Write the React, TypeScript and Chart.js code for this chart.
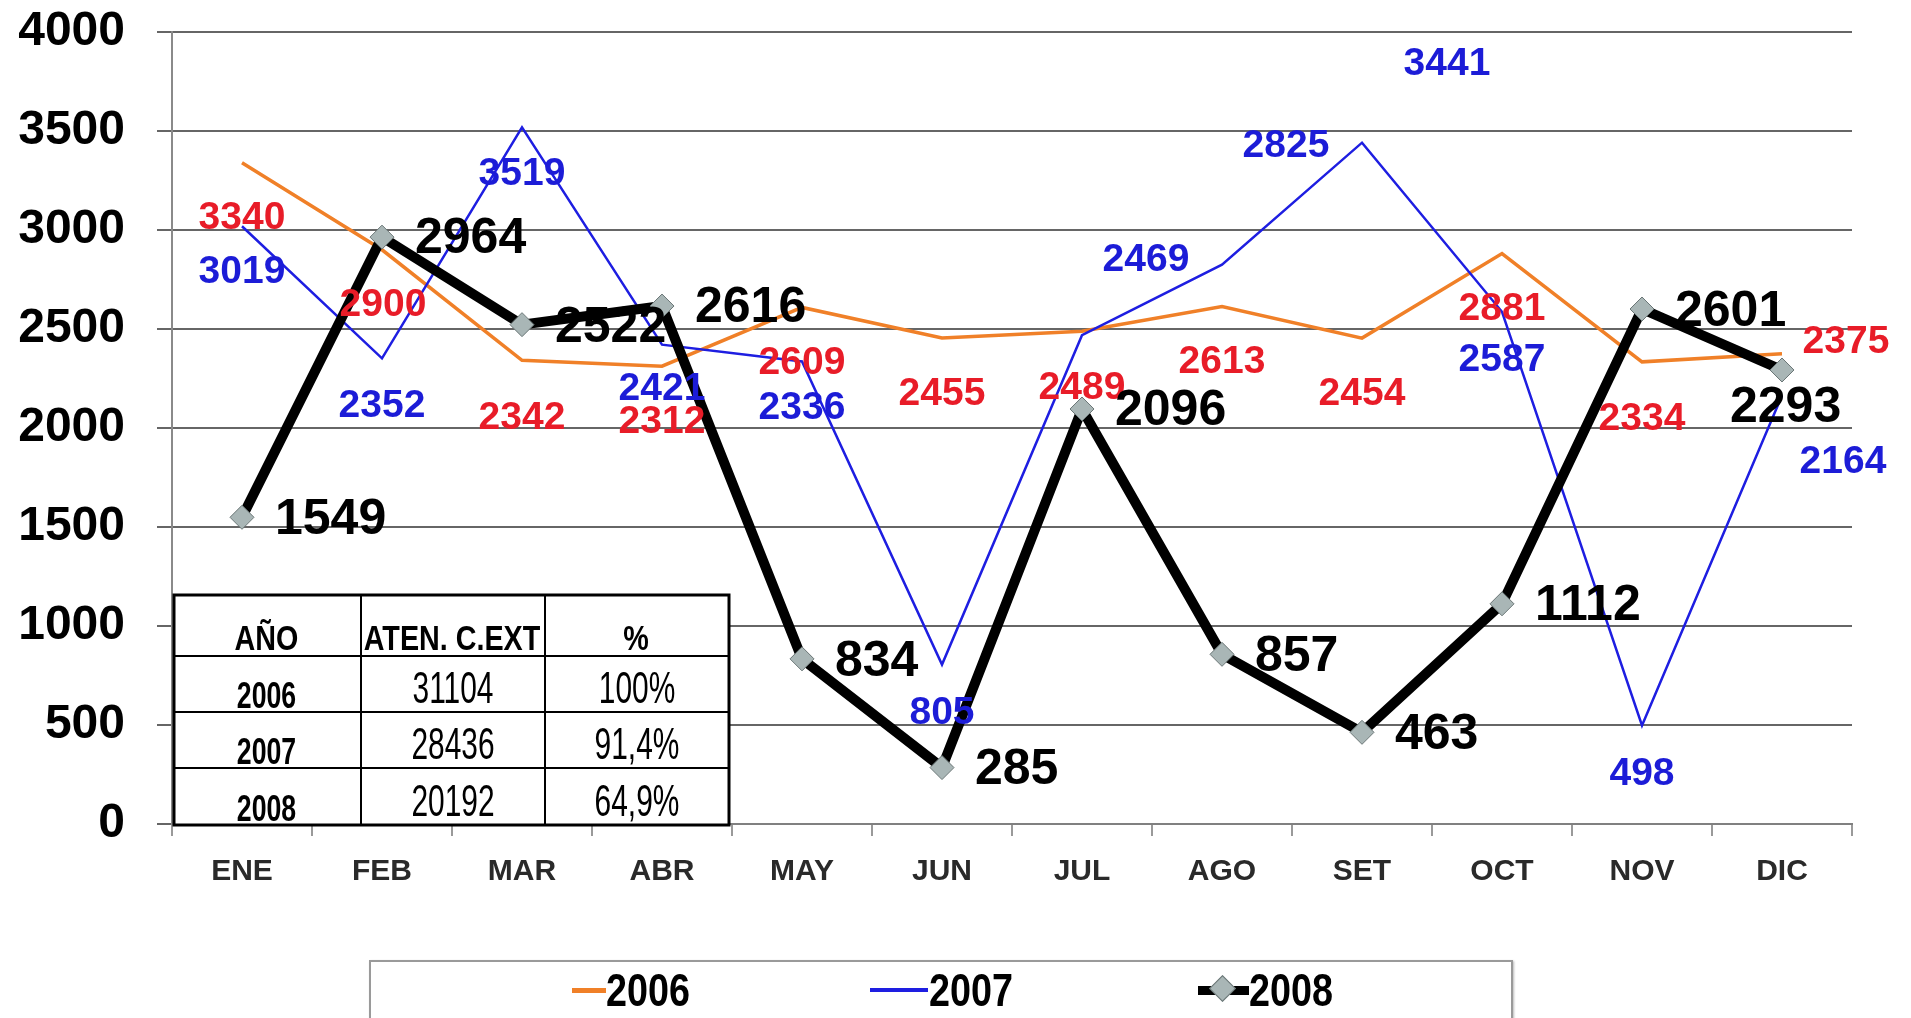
import React, { useEffect, useRef } from "react";
import { Chart, registerables } from "chart.js";

Chart.register(...registerables);

// ---- data ----
const months = ["ENE", "FEB", "MAR", "ABR", "MAY", "JUN", "JUL", "AGO", "SET", "OCT", "NOV", "DIC"];
const values2006 = [3340, 2900, 2342, 2312, 2609, 2455, 2489, 2613, 2454, 2881, 2334, 2375];
const values2007 = [3019, 2352, 3519, 2421, 2336, 805, 2469, 2825, 3441, 2587, 498, 2164];
const values2008 = [1549, 2964, 2522, 2616, 834, 285, 2096, 857, 463, 1112, 2601, 2293];
const seriesNames = ["2006", "2007", "2008"];
const yMin = 0;
const yMax = 4000;
const yStep = 500;

const tableHeader = ["AÑO", "ATEN. C.EXT", "%"];
const tableYears = ["2006", "2007", "2008"];
const tableTotals = ["31104", "28436", "20192"];
const tablePercents = ["100%", "91,4%", "64,9%"];

// ---- label placement (offsets from the point, px) ----
const off2006: [number, number][] = [
  [0, 56], [1, 55], [0, 58], [0, 56], [0, 56], [0, 56], [0, 57], [0, 56], [0, 56], [0, 56], [0, 57], [64, -12],
];
const off2007: [number, number][] = [
  [0, 46], [0, 48], [0, 47], [0, 45], [0, 47], [0, 49], [64, -75], [64, -118], [85, -78], [0, 48], [0, 49], [61, 67],
];
const off2008: [number, number][] = [
  [33, 3], [33, 2], [33, 4], [33, 2], [33, 3], [33, 3], [33, 2], [33, 3], [33, 3], [33, 2], [33, 3], [-52, 38],
];

const ORANGE = "rgb(240,128,40)";
const BLUE = "rgb(30,30,225)";
const RED = "rgb(232,28,40)";
const BLUE_TXT = "rgb(28,28,215)";
const FONT = "'Liberation Sans', Arial, sans-serif";

const W = 1911;
const H = 1018;
const AREA_LEFT = 172;
const AREA_RIGHT = 1852;
const AREA_TOP = 32;
const AREA_BOTTOM = 824;

function condensedText(
  ctx: CanvasRenderingContext2D,
  text: string,
  cx: number,
  baseline: number,
  font: string,
  sx: number
) {
  ctx.save();
  ctx.font = font;
  ctx.textAlign = "center";
  ctx.textBaseline = "alphabetic";
  ctx.translate(cx, baseline);
  ctx.scale(sx, 1);
  ctx.fillText(text, 0, 0);
  ctx.restore();
}

const labelPlugin = {
  id: "pointLabels",
  afterDatasetsDraw(chart: any) {
    const ctx: CanvasRenderingContext2D = chart.ctx;
    const specs = [
      { idx: 0, vals: values2006, off: off2006, color: RED, font: `bold 39px ${FONT}`, align: "center" },
      { idx: 1, vals: values2007, off: off2007, color: BLUE_TXT, font: `bold 39px ${FONT}`, align: "center" },
      { idx: 2, vals: values2008, off: off2008, color: "#000", font: `bold 50px ${FONT}`, align: "left" },
    ];
    ctx.save();
    for (const s of specs) {
      const meta = chart.getDatasetMeta(s.idx);
      ctx.font = s.font;
      ctx.fillStyle = s.color;
      ctx.textBaseline = "middle";
      meta.data.forEach((pt: any, i: number) => {
        const [dx, dy] = s.off[i];
        ctx.textAlign = s.align as CanvasTextAlign;
        ctx.fillText(String(s.vals[i]), pt.x + dx, pt.y + dy);
      });
    }
    ctx.restore();
  },
  afterDraw(chart: any) {
    const ctx: CanvasRenderingContext2D = chart.ctx;
    // summary table
    const x0 = 174, x1 = 361, x2 = 545, x3 = 729;
    const rows = [595, 656, 712, 768, 825];
    ctx.save();
    ctx.fillStyle = "#fff";
    ctx.fillRect(x0, rows[0], x3 - x0, rows[4] - rows[0]);
    ctx.strokeStyle = "#000";
    ctx.lineWidth = 3;
    ctx.strokeRect(x0, rows[0], x3 - x0, rows[4] - rows[0]);
    ctx.lineWidth = 2;
    ctx.beginPath();
    for (let r = 1; r < 4; r++) {
      ctx.moveTo(x0, rows[r]);
      ctx.lineTo(x3, rows[r]);
    }
    ctx.moveTo(x1, rows[0]);
    ctx.lineTo(x1, rows[4]);
    ctx.moveTo(x2, rows[0]);
    ctx.lineTo(x2, rows[4]);
    ctx.stroke();
    ctx.fillStyle = "#000";
    const cols = [(x0 + x1) / 2, (x1 + x2) / 2, (x2 + x3) / 2];
    tableHeader.forEach((t, c) => {
      condensedText(ctx, t, cols[c] - 1, rows[1] - 6, `bold 35px ${FONT}`, 0.82);
    });
    for (let r = 0; r < 3; r++) {
      const base = rows[r + 2] - 4;
      condensedText(ctx, tableYears[r], cols[0] - 1, base, `bold 36px ${FONT}`, 0.74);
      condensedText(ctx, tableTotals[r], cols[1], base - 5, `44px ${FONT}`, 0.68);
      condensedText(ctx, tablePercents[r], cols[2], base - 5, `44px ${FONT}`, 0.68);
    }
    ctx.restore();
  },
};

export default function App() {
  const ref = useRef<HTMLCanvasElement | null>(null);

  useEffect(() => {
    document.body.style.margin = "0";
    if (!ref.current) return;
    const chart = new Chart(ref.current, {
      type: "line",
      data: {
        labels: months,
        datasets: [
          {
            label: seriesNames[0],
            data: values2006,
            borderColor: ORANGE,
            backgroundColor: ORANGE,
            borderWidth: 3.5,
            pointRadius: 0,
            tension: 0,
            order: 2,
          },
          {
            label: seriesNames[1],
            data: values2007,
            borderColor: BLUE,
            backgroundColor: BLUE,
            borderWidth: 2.5,
            pointRadius: 0,
            tension: 0,
            order: 1,
          },
          {
            label: seriesNames[2],
            data: values2008,
            borderColor: "#000",
            backgroundColor: "#a9b6b6",
            borderWidth: 10,
            pointStyle: "rectRot",
            pointRadius: 12,
            pointBorderColor: "#6a7676",
            pointBorderWidth: 1,
            pointBackgroundColor: "#a9b6b6",
            tension: 0,
            order: 0,
          },
        ],
      },
      options: {
        responsive: false,
        animation: false,
        events: [],
        layout: {
          padding: { left: 0, top: AREA_TOP, right: W - AREA_RIGHT, bottom: 0 },
        },
        plugins: {
          legend: { display: false },
          tooltip: { enabled: false },
        },
        scales: {
          x: {
            type: "category",
            offset: true,
            grid: {
              offset: true,
              drawOnChartArea: false,
              drawTicks: true,
              tickLength: 12,
              color: "#9a9a9a",
              lineWidth: 2,
            },
            border: { display: true, color: "#808080", width: 2 },
            ticks: {
              color: "#2a2a2a",
              font: { family: FONT, size: 30, weight: "bold" },
              padding: 18,
              maxRotation: 0,
            },
            afterFit(scale: any) {
              scale.height = H - AREA_BOTTOM;
              scale.paddingLeft = 0;
              scale.paddingRight = 0;
            },
          },
          y: {
            min: yMin,
            max: yMax,
            ticks: {
              stepSize: yStep,
              color: "#000",
              font: { family: FONT, size: 48, weight: "bold" },
              padding: 32,
              callback: (v: any) => String(v),
            },
            grid: {
              color: "#666666",
              lineWidth: 2,
              tickLength: 15,
              drawTicks: true,
            },
            border: { display: true, color: "#8a8a8a", width: 2 },
            afterFit(scale: any) {
              scale.width = AREA_LEFT;
              scale.paddingTop = 0;
              scale.paddingBottom = 0;
            },
          },
        },
      },
      plugins: [labelPlugin],
    });
    return () => chart.destroy();
  }, []);

  const legendText: React.CSSProperties = {
    position: "absolute",
    top: 962,
    fontFamily: FONT,
    fontWeight: "bold",
    fontSize: 46,
    lineHeight: "56px",
    color: "#000",
    transform: "scaleX(0.82)",
    transformOrigin: "left center",
  };
  const mark = (left: number, width: number, color: string, h: number): React.CSSProperties => ({
    position: "absolute",
    left,
    top: 990 - h / 2,
    width,
    height: h,
    background: color,
  });

  return (
    <div style={{ position: "absolute", left: 0, top: 0, width: W, height: H, overflow: "hidden", background: "#fff" }}>
      <canvas ref={ref} width={W} height={H} style={{ position: "absolute", left: 0, top: 0, width: W, height: H }} />
      <div
        style={{
          position: "absolute",
          left: 369,
          top: 960,
          width: 1140,
          height: 100,
          border: "2px solid #9a9a9a",
          boxShadow: "1px 1px 2px #bbb",
          background: "#fff",
        }}
      />
      <div style={mark(572, 34, ORANGE, 5)} />
      <div style={{ ...legendText, left: 606 }}>{seriesNames[0]}</div>
      <div style={mark(870, 58, BLUE, 4)} />
      <div style={{ ...legendText, left: 929 }}>{seriesNames[1]}</div>
      <div style={mark(1198, 51, "#000", 9)} />
      <div
        style={{
          position: "absolute",
          left: 1213,
          top: 979,
          width: 17,
          height: 17,
          background: "#a9b6b6",
          border: "1px solid #6a7676",
          transform: "rotate(45deg)",
        }}
      />
      <div style={{ ...legendText, left: 1249 }}>{seriesNames[2]}</div>
    </div>
  );
}
